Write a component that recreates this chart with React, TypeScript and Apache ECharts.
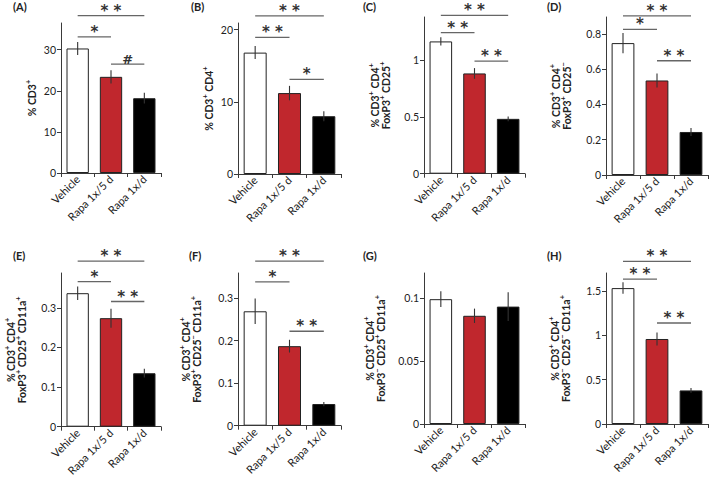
import React, { useEffect, useRef } from "react";
import * as echarts from "echarts";

// ---------- data ----------
const categories = ["Vehicle", "Rapa 1x/5 d", "Rapa 1x/d"];
const panelLabels = ["(A)", "(B)", "(C)", "(D)", "(E)", "(F)", "(G)", "(H)"];
const yTitles = [
  "% CD3⁺",
  "% CD3⁺ CD4⁺",
  "% CD3⁺ CD4⁺\nFoxP3⁺ CD25⁺",
  "% CD3⁺ CD4⁺\nFoxP3⁺ CD25⁻",
  "% CD3⁺ CD4⁺\nFoxP3⁺ CD25⁺ CD11a⁺",
  "% CD3⁺ CD4⁺\nFoxP3⁺ CD25⁻ CD11a⁺",
  "% CD3⁺ CD4⁺\nFoxP3⁻ CD25⁺ CD11a⁺",
  "% CD3⁺ CD4⁺\nFoxP3⁻ CD25⁻ CD11a⁺",
];

const meanA = [30.3, 23.4, 18.2];
const errA = [1.6, 1.6, 1.3];
const meanB = [16.8, 11.2, 8.0];
const errB = [0.9, 1.0, 0.7];
const meanC = [1.165, 0.883, 0.483];
const errC = [0.037, 0.047, 0.02];
const meanD = [0.748, 0.536, 0.244];
const errD = [0.057, 0.04, 0.023];
const meanE = [0.337, 0.274, 0.135];
const errE = [0.017, 0.024, 0.011];
const meanF = [0.269, 0.187, 0.051];
const errF = [0.03, 0.015, 0.005];
const meanG = [0.0992, 0.086, 0.0933];
const errG = [0.0063, 0.0057, 0.0115];
const meanH = [1.53, 0.957, 0.378];
const errH = [0.065, 0.073, 0.027];

const ticksA = [0, 10, 20, 30];
const ticksB = [0, 10, 20];
const ticksC = [0, 0.5, 1];
const ticksD = [0, 0.2, 0.4, 0.6, 0.8];
const ticksE = [0, 0.1, 0.2, 0.3];
const ticksF = [0, 0.1, 0.2, 0.3];
const ticksG = [0, 0.05, 0.1];
const ticksH = [0, 0.5, 1, 1.5];

const axisMaxes = [36.5, 20.9, 1.38, 0.896, 0.388, 0.359, 0.12, 1.7];

// significance brackets: [fromCategory, toCategory, yValue, label]
const sigA: [number, number, number, string][] = [[0, 2, 38.3, "**"], [0, 1, 33.1, "*"], [1, 2, 26.5, "#"]];
const sigB: [number, number, number, string][] = [[0, 2, 21.9, "**"], [0, 1, 18.9, "**"], [1, 2, 13.1, "*"]];
const sigC: [number, number, number, string][] = [[0, 2, 1.395, "**"], [0, 1, 1.242, "**"], [1, 2, 0.992, "**"]];
const sigD: [number, number, number, string][] = [[0, 2, 0.902, "**"], [0, 1, 0.826, "*"], [1, 2, 0.648, "**"]];
const sigE: [number, number, number, string][] = [[0, 2, 0.418, "**"], [0, 1, 0.366, "*"], [1, 2, 0.316, "**"]];
const sigF: [number, number, number, string][] = [[0, 2, 0.387, "**"], [0, 1, 0.338, "*"], [1, 2, 0.222, "**"]];
const sigG: [number, number, number, string][] = [];
const sigH: [number, number, number, string][] = [[0, 2, 1.83, "**"], [0, 1, 1.63, "**"], [1, 2, 1.137, "**"]];

const means = [meanA, meanB, meanC, meanD, meanE, meanF, meanG, meanH];
const errs = [errA, errB, errC, errD, errE, errF, errG, errH];
const ticks = [ticksA, ticksB, ticksC, ticksD, ticksE, ticksF, ticksG, ticksH];
const sigs = [sigA, sigB, sigC, sigD, sigE, sigF, sigG, sigH];

// ---------- layout / style ----------
const grids = [
  { left: 61, top: 23, width: 100, height: 150 },
  { left: 238, top: 23, width: 103, height: 151 },
  { left: 424, top: 17, width: 101, height: 156.7 },
  { left: 606, top: 17, width: 102, height: 158 },
  { left: 61, top: 273, width: 100, height: 153.7 },
  { left: 238, top: 273, width: 103, height: 152.7 },
  { left: 424, top: 273, width: 101, height: 151 },
  { left: 606, top: 273, width: 102, height: 151 },
];
const nameGaps = [24, 24, 33, 34, 34, 36, 38, 35];
const labelPos = [
  [13, 1], [191, 1], [363, 1], [547, 1],
  [13, 250], [189, 250], [363, 250], [547, 250],
];
const barColors = ["#ffffff", "#c0272d", "#000000"];
const FONT = "Lato, 'Open Sans', sans-serif";
const AXIS = "#3a3a3a";

// turn unicode superscript signs into raised rich-text fragments
function richTitle(t: string) {
  return t.replace(/⁺/g, "{s|+}").replace(/⁻/g, "{s|−}");
}

function buildOption() {
  const xAxis: any[] = [];
  const yAxis: any[] = [];
  const series: any[] = [];
  const graphic: any[] = [];
  grids.forEach((g, i) => {
    xAxis.push({
      type: "category",
      gridIndex: i,
      data: categories,
      axisLine: { lineStyle: { color: AXIS, width: 1 } },
      axisTick: { show: true, alignWithLabel: false, length: 4, lineStyle: { color: AXIS } },
      axisLabel: { rotate: 45, interval: 0, fontSize: 11, margin: 4, color: "#222", fontFamily: FONT },
    });
    yAxis.push({
      type: "value",
      gridIndex: i,
      min: 0,
      max: axisMaxes[i],
      splitLine: { show: false },
      axisLine: { show: true, lineStyle: { color: AXIS, width: 1 } },
      axisTick: { show: true, length: 4, customValues: ticks[i], lineStyle: { color: AXIS } },
      axisLabel: { customValues: ticks[i], fontSize: 10.5, margin: 5, color: "#222", fontFamily: FONT },
      name: richTitle(yTitles[i]),
      nameLocation: "middle",
      nameRotate: 90,
      nameGap: nameGaps[i],
      nameTextStyle: {
        fontSize: 10.5,
        fontWeight: "bold",
        color: "#222",
        lineHeight: 11,
        fontFamily: FONT,
        rich: {
          s: {
            fontSize: 7.5,
            fontWeight: "bold",
            color: "#222",
            fontFamily: FONT,
            lineHeight: 11,
            padding: [0, 0, 7, 0],
          },
        },
      },
    });
    series.push({
      type: "bar",
      xAxisIndex: i,
      yAxisIndex: i,
      barWidth: "67%",
      data: means[i].map((v, j) => ({
        value: v,
        itemStyle: { color: barColors[j], borderColor: "#222", borderWidth: 1 },
      })),
    });
    const mi = means[i];
    const ei = errs[i];
    series.push({
      type: "custom",
      xAxisIndex: i,
      yAxisIndex: i,
      z: 5,
      clip: false,
      encode: { x: 0, y: [1, 2] },
      data: mi.map((m, j) => [j, m - ei[j], m + ei[j]]),
      renderItem: (params: any, api: any) => {
        const lo = api.coord([api.value(0), api.value(1)]);
        const hi = api.coord([api.value(0), api.value(2)]);
        return {
          type: "line",
          shape: { x1: lo[0], y1: lo[1], x2: hi[0], y2: hi[1] },
          style: { stroke: "#333", lineWidth: 1.1 },
        };
      },
    });
    const si = sigs[i];
    if (si.length) {
      series.push({
        type: "custom",
        xAxisIndex: i,
        yAxisIndex: i,
        z: 5,
        clip: false,
        encode: { x: [0, 1], y: 2 },
        data: si.map((s) => [s[0], s[1], s[2]]),
        renderItem: (params: any, api: any) => {
          const p1 = api.coord([api.value(0), api.value(2)]);
          const p2 = api.coord([api.value(1), api.value(2)]);
          const label = si[params.dataIndex][3];
          return {
            type: "group",
            children: [
              {
                type: "line",
                shape: { x1: p1[0], y1: p1[1], x2: p2[0], y2: p2[1] },
                style: { stroke: "#666", lineWidth: 1.3 },
              },
              {
                type: "text",
                x: (p1[0] + p2[0]) / 2,
                y: p1[1] - 5,
                style: {
                  text: label === "**" ? "* *" : label,
                  fontSize: label === "#" ? 13 : 15,
                  fontWeight: "bold",
                  fontFamily: "'DejaVu Sans', sans-serif",
                  align: "center",
                  verticalAlign: "middle",
                  fill: "#333",
                },
              },
            ],
          };
        },
      });
    }
    graphic.push({
      type: "text",
      left: labelPos[i][0],
      top: labelPos[i][1],
      style: { text: panelLabels[i], fontSize: 11, fontWeight: "bold", fill: "#222", fontFamily: FONT },
    });
  });
  return {
    animation: false,
    backgroundColor: "#ffffff",
    grid: grids.map((g) => ({ ...g, containLabel: false })),
    xAxis,
    yAxis,
    series,
    graphic,
  };
}

export default function App() {
  const ref = useRef<HTMLDivElement>(null);
  useEffect(() => {
    if (!ref.current) return;
    const chart = echarts.init(ref.current, undefined, { renderer: "svg" });
    chart.setOption(buildOption() as any);
    return () => chart.dispose();
  }, []);
  return (
    <div
      ref={ref}
      style={{ position: "absolute", left: 0, top: 0, width: 709, height: 479, background: "#fff" }}
    />
  );
}
